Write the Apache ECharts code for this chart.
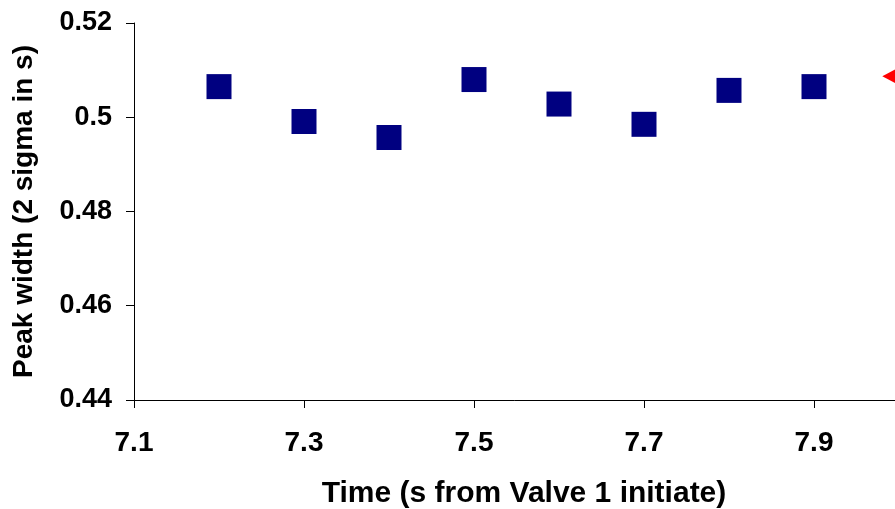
<!DOCTYPE html>
<html>
<head>
<meta charset="utf-8">
<script src="https://cdn.jsdelivr.net/npm/echarts@6/dist/echarts.min.js"></script>
<style>
  html, body { margin: 0; padding: 0; background: #fff; }
  #chart { width: 895px; height: 509px; }
</style>
</head>
<body>
<div id="chart"></div>
<script>
  // data
  var times = [7.2, 7.3, 7.4, 7.5, 7.6, 7.7, 7.8, 7.9]
  var widths = [0.5065, 0.4991, 0.4957, 0.5080, 0.5028, 0.4985, 0.5057, 0.5065]
  var otherTimes = [7.988]
  var otherWidths = [0.5087]
  var xTicks = [7.1, 7.3, 7.5, 7.7, 7.9]

  var font = 'Liberation Sans, Arial, sans-serif'
  var chart = echarts.init(document.getElementById('chart'))
  chart.setOption({
    animation: false,
    backgroundColor: '#fff',
    title: {
      text: 'Time (s from Valve 1 initiate)',
      left: 519,
      textAlign: 'center',
      top: 474,
      textStyle: { fontFamily: font, fontWeight: 'bold', fontSize: 30, color: '#000' }
    },
    grid: { left: 134, top: 23, bottom: 109, right: -89, outerBoundsMode: 'none', containLabel: false },
    xAxis: {
      type: 'value',
      min: 7.1,
      max: 8.1,
      axisLine: { lineStyle: { color: '#000', width: 1 } },
      axisTick: { show: true, length: 8, customValues: xTicks, lineStyle: { color: '#000' } },
      axisLabel: {
        customValues: xTicks,
        margin: 29,
        fontFamily: font, fontWeight: 'bold', fontSize: 28, color: '#000'
      },
      splitLine: { show: false }
    },
    yAxis: {
      type: 'value',
      min: 0.44,
      max: 0.52,
      interval: 0.02,
      name: 'Peak width (2 sigma in s)',
      nameLocation: 'middle',
      nameGap: 96,
      nameTextStyle: { fontFamily: font, fontWeight: 'bold', fontSize: 28, color: '#000' },
      axisLine: { show: true, lineStyle: { color: '#000', width: 1 } },
      axisTick: { show: true, length: 8, lineStyle: { color: '#000' } },
      axisLabel: { margin: 22, fontFamily: font, fontWeight: 'bold', fontSize: 27, color: '#000' },
      splitLine: { show: false }
    },
    series: [
      {
        type: 'scatter',
        symbol: 'rect',
        symbolSize: 25,
        itemStyle: { color: '#000080', opacity: 1 },
        data: times.map(function (t, i) { return [t, widths[i]] })
      },
      {
        type: 'scatter',
        symbol: 'triangle',
        symbolRotate: 90,
        symbolSize: [14, 13],
        itemStyle: { color: '#ff0000', opacity: 1 },
        data: otherTimes.map(function (t, i) { return [t, otherWidths[i]] })
      }
    ]
  })
</script>
</body>
</html>
